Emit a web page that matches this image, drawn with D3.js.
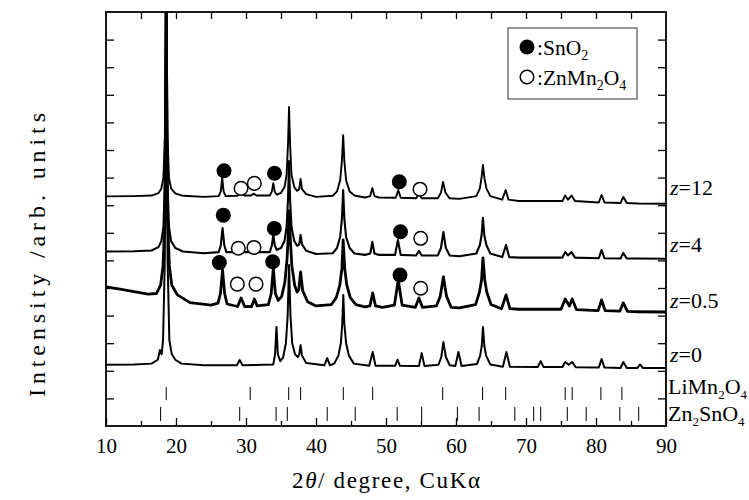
<!DOCTYPE html>
<html><head><meta charset="utf-8">
<script src="https://cdn.jsdelivr.net/npm/d3@7"></script>
<style>
body{margin:0;background:#fff}
text{font-family:"Liberation Serif","Times New Roman",Times,"DejaVu Serif",serif;fill:#000}
</style>
</head><body><svg id="c" width="749" height="500"></svg>
<script>
// ---------- data ----------
const xTicks = [10,20,30,40,50,60,70,80,90];
const seriesLabels = ["12","4","0.5","0"];
const labelValues = [83.7, 63.2, 42.8, 23.3];

const z12 = [[10,83.2],[14,83.3],[16.5,83.5],[17.5,84.4],[17.9,86],[18.2,90],[18.42,105],[18.6,175],[18.78,105],[19.0,90],[19.3,86],[19.9,84.3],[21,83.4],[24,83],[26.1,83.3],[26.4,85],[26.6,89.9],[26.8,85],[27.1,83.3],[28.8,83.4],[29.3,84.4],[29.8,83.5],[30.7,83.5],[31.1,84.2],[31.5,83.5],[33.4,83.5],[33.7,85],[33.9,88],[34.1,85],[34.4,83.8],[35.0,84.5],[35.5,86.5],[35.8,91],[36.0,102],[36.15,115.6],[36.3,102],[36.5,91],[36.9,86.5],[37.3,85.2],[37.6,85.8],[37.8,89.5],[38,85.8],[38.6,84],[40,83],[42.4,83.4],[43.0,85],[43.45,89],[43.7,96],[43.88,105.4],[44.05,96],[44.3,89],[44.8,85],[45.5,83.5],[47,82.8],[47.75,83.3],[48.05,86.2],[48.35,83.3],[49,82.8],[51.4,82.7],[51.75,85.5],[52.1,82.7],[54.3,82.5],[54.7,84],[55.1,82.5],[57.4,82.5],[57.85,84.5],[58.15,88.4],[58.5,84.5],[59.1,82.5],[60.5,82.3],[62.9,83.3],[63.4,86],[63.65,90],[63.85,94.6],[64.05,90],[64.35,86],[64.9,83.3],[66.6,82],[67.1,85.5],[67.5,82],[69,81.5],[75.2,81.5],[75.6,83.5],[76,82],[76.5,83.5],[77,81.5],[80.4,81],[80.8,83.7],[81.2,81],[83.5,80.8],[83.9,83],[84.4,80.8],[86,80.6],[90,80.5]];

const z4 = [[10,63.2],[14,63.3],[16.5,63.6],[17.5,64.8],[17.9,67],[18.2,72],[18.42,88],[18.6,140],[18.78,88],[19.0,72],[19.3,67],[19.9,64.5],[21,63.2],[24,62.6],[26.1,63],[26.4,65.5],[26.65,71.7],[26.9,65.5],[27.2,63],[28.8,63],[29.3,64.5],[29.8,63],[30.7,63],[31.1,64.3],[31.5,63],[33.4,63],[33.7,65.5],[33.9,69.2],[34.1,65.5],[34.4,63.8],[35.0,64.5],[35.5,67],[35.8,72],[36.0,82],[36.15,96],[36.3,82],[36.5,72],[36.9,67],[37.3,65.3],[37.6,65.8],[37.8,69.2],[38,65.8],[38.6,63.5],[40,62.3],[42.4,62.6],[43.0,64.5],[43.45,68.5],[43.7,75],[43.88,85.5],[44.05,75],[44.3,68.5],[44.8,64.5],[45.5,62.5],[47,62],[47.75,62.5],[48.05,66.7],[48.35,62.5],[49,62],[51.3,62],[51.7,67.4],[52.1,62],[54.3,61.8],[54.7,63.5],[55.1,61.8],[57.4,61.8],[57.85,64.5],[58.2,70.3],[58.55,64.5],[59.1,61.8],[60.5,61.5],[62.9,62.5],[63.4,65.5],[63.65,69],[63.85,75.4],[64.05,69],[64.35,65.5],[64.9,62.5],[66.6,61.2],[67.15,65.6],[67.6,61.2],[69,61],[75.2,61],[75.6,63],[76,61.8],[76.5,63],[77,61],[80.4,60.8],[80.8,63.8],[81.2,60.8],[83.5,60.7],[83.9,62.7],[84.4,60.7],[86,60.7],[90,60.6]];

const z05 = [[10,50.4],[12,49.6],[14,48.7],[16,47.8],[17.2,48],[17.8,51],[18.15,58],[18.4,75],[18.6,150],[18.8,75],[19.05,58],[19.4,51],[20.2,47.5],[22,44.7],[25,43.8],[26.0,44.5],[26.35,48],[26.65,56.5],[26.95,48],[27.3,44.2],[28.8,43.3],[29.3,46.4],[29.8,43.3],[30.8,43.3],[31.2,46],[31.6,43.5],[33.2,44],[33.6,48],[33.9,57.2],[34.2,48],[34.6,45.5],[35.1,47],[35.55,52],[35.85,60],[36.0,67],[36.15,78],[36.35,67],[36.55,58],[36.95,51],[37.3,48.5],[37.55,49.5],[37.8,55.8],[38.1,49],[38.8,45],[40,43.5],[42.2,44],[42.9,46.5],[43.4,51],[43.7,57],[43.88,67.4],[44.1,57],[44.4,51],[44.9,46.5],[45.7,44],[47,43.2],[47.7,43.5],[48.1,48.2],[48.5,43.5],[49.5,43],[51.2,43.8],[51.75,52.9],[52.3,43.8],[54.2,43],[54.7,46.4],[55.2,43],[57.2,43.5],[57.75,47],[58.2,54],[58.65,47],[59.3,43],[60.5,42.8],[62.8,44],[63.35,48.5],[63.65,53],[63.85,60.9],[64.1,53],[64.4,48.5],[65.0,44],[66.5,42.5],[67.15,47.5],[67.7,42.5],[69,42.3],[75,42.3],[75.6,46],[76.2,43.5],[76.6,46],[77.2,42.2],[80.3,41.8],[80.8,45.7],[81.3,41.8],[83.4,41.6],[83.9,44.6],[84.5,41.5],[86,41.4],[90,41.3]];

const z0 = [[10,22.2],[14,22.3],[16.5,22.6],[17.4,24],[17.7,27.5],[17.95,26],[18.15,31],[18.4,60],[18.6,200],[18.8,60],[19.05,31],[19.4,26],[19.9,24],[20.8,22.6],[24,22],[28.7,22],[29.1,23.9],[29.5,22],[33.9,22.3],[34.15,26],[34.35,35.9],[34.55,26],[34.9,23.5],[35.3,24.8],[35.7,30],[35.95,40],[36.15,58.3],[36.35,40],[36.6,30],[37.0,26],[37.4,25],[37.6,25.8],[37.8,29.3],[38,25.5],[38.6,22.8],[41.2,22],[41.6,24.6],[42,22],[42.6,22.6],[43.2,25.5],[43.55,30],[43.75,37],[43.9,47.5],[44.05,37],[44.3,30],[44.7,25.5],[45.4,22.6],[47.6,21.8],[48.1,26.8],[48.5,21.8],[51.3,21.8],[51.65,24],[52,21.8],[54.7,21.7],[55.1,26.4],[55.5,21.7],[57.5,22.2],[57.9,25],[58.2,30.4],[58.55,25],[59.1,22],[59.9,21.7],[60.35,26.8],[60.8,21.7],[63.0,22.5],[63.45,25.5],[63.68,29],[63.85,35.9],[64.05,29],[64.3,25.5],[64.9,22.3],[66.7,21.5],[67.2,26.8],[67.7,21.5],[71.7,21.4],[72.1,23.5],[72.5,21.4],[75.2,21.4],[75.6,23.2],[76.1,22.2],[76.6,23.2],[77.1,21.3],[80.4,21.2],[80.8,24.3],[81.2,21.2],[83.5,21],[83.9,23.2],[84.4,21],[85.9,21],[86.3,22.3],[86.7,21],[90,21]];

const liMn2O4Ref = [18.6,30.6,36.1,37.8,43.9,48.1,58.1,63.8,67.1,75.6,76.6,80.7,83.7];
const zn2SnO4Ref = [17.8,29.1,34.3,35.9,41.6,45.6,51.6,55.1,60.2,63.3,68.4,71.1,72.1,75.9,78.6,83.4,86.1];

const sno2Marks = [[26.86,92.5],[34.07,91.6],[51.9,88.5],[26.76,76.4],[34.04,71.6],[52.07,70.4],[26.19,59.2],[33.81,59.5],[52,54.7]];
const znMn2O4Marks = [[29.29,86.1],[31.19,87.9],[54.86,85.8],[28.9,64.4],[31.14,64.7],[54.96,68.0],[28.76,51.4],[31.43,51.4],[54.96,49.9]];

// ---------- drawing ----------
const L = 106, R = 666, T = 12, B = 426;
const svg = d3.select("#c");
const x = d3.scaleLinear().domain([10, 90]).range([L, R]);
const y = d3.scaleLinear().domain([0, 150]).range([B, T]);

svg.append("defs").append("clipPath").attr("id","clip")
  .append("rect").attr("x", L).attr("y", T).attr("width", R-L).attr("height", B-T);

const line = d3.line().x(d => x(d[0])).y(d => y(d[1]));
const traces = [z12, z4, z05, z0];
const widths = [1.9, 2.1, 2.8, 2.0];
const gT = svg.append("g").attr("clip-path","url(#clip)");
traces.forEach((t, i) => {
  gT.append("path").attr("d", line(t)).attr("fill","none")
    .attr("stroke","#000").attr("stroke-width", widths[i]).attr("stroke-linejoin","round");
});

// reference stick patterns
const refRows = [{data: liMn2O4Ref, v0: 9.4, v1: 14.1}, {data: zn2SnO4Ref, v0: 1.8, v1: 6.9}];
refRows.forEach(r => {
  svg.append("g").selectAll("line").data(r.data).join("line")
    .attr("x1", d => x(d)).attr("x2", d => x(d))
    .attr("y1", y(r.v0)).attr("y2", y(r.v1))
    .attr("stroke","#000").attr("stroke-width",1);
});

// phase markers
svg.append("g").selectAll("circle").data(sno2Marks).join("circle")
  .attr("cx", d => x(d[0])).attr("cy", d => y(d[1])).attr("r", 7.5).attr("fill","#000");
svg.append("g").selectAll("circle").data(znMn2O4Marks).join("circle")
  .attr("cx", d => x(d[0])).attr("cy", d => y(d[1])).attr("r", 6.8)
  .attr("fill","#fff").attr("stroke","#000").attr("stroke-width",1.5);

// axes
const fs = 21;
const axB = d3.axisBottom(x).tickValues(xTicks).tickSizeInner(-8).tickSizeOuter(0).tickPadding(12).tickFormat(d3.format("d"));
const gB = svg.append("g").attr("transform", `translate(0,${B})`).call(axB);
const axBm = d3.axisBottom(x).tickValues(d3.range(15, 90, 10)).tickSizeInner(-5).tickSizeOuter(0).tickFormat("");
svg.append("g").attr("transform", `translate(0,${B})`).call(axBm);
const axT = d3.axisTop(x).tickValues(d3.range(15, 90, 5)).tickSizeInner(-7).tickSizeOuter(0).tickFormat("");
svg.append("g").attr("transform", `translate(0,${T})`).call(axT);
const yTickVals = d3.range(10, 150, 10);
const axL = d3.axisLeft(y).tickValues(yTickVals).tickSizeInner(-8).tickSizeOuter(0).tickFormat("");
svg.append("g").attr("transform", `translate(${L},0)`).call(axL);
const axR = d3.axisRight(y).tickValues(yTickVals).tickSizeInner(-8).tickSizeOuter(0).tickFormat("");
svg.append("g").attr("transform", `translate(${R},0)`).call(axR);
svg.selectAll(".domain").remove();
svg.selectAll("g[font-family]").attr("font-family", null);
svg.selectAll(".tick line").attr("stroke","#000").attr("stroke-width",1.3);
gB.selectAll(".tick text").attr("font-size", fs).attr("fill","#000");

// frame
svg.append("rect").attr("x", L).attr("y", T).attr("width", R-L).attr("height", B-T)
  .attr("fill","none").attr("stroke","#000").attr("stroke-width",1.8);

// axis titles
const xt = svg.append("text").attr("x", (L+R)/2).attr("y", 488).attr("text-anchor","middle")
  .attr("font-size", 23).attr("textLength", 188).attr("lengthAdjust","spacing");
xt.append("tspan").text("2");
xt.append("tspan").attr("font-style","italic").text("θ");
xt.append("tspan").text("/ degree, CuKα");

svg.append("text").attr("transform", "translate(45,255) rotate(-90)")
  .attr("text-anchor","middle").attr("font-size", 24)
  .attr("textLength", 284).attr("lengthAdjust","spacing").text("Intensity /arb. units");

// series labels
seriesLabels.forEach((s, i) => {
  const t = svg.append("text").attr("x", R + 4).attr("y", y(labelValues[i])).attr("font-size", 22);
  t.append("tspan").attr("font-style","italic").text("z");
  t.append("tspan").text("=" + s);
});

// chemical formula text with subscripts
function chem(xp, yp, parts, size, sub) {
  const t = svg.append("text").attr("x", xp).attr("y", yp).attr("font-size", size);
  let shift = 0;
  parts.forEach(p => {
    const s = t.append("tspan");
    if (typeof p === "string") {
      s.text(p);
      if (shift) { s.attr("dy", -shift); shift = 0; }
    } else {
      s.attr("font-size", sub).attr("dy", 5).text(p[0]);
      shift = 5;
    }
  });
  return t;
}
chem(R + 2, 394, ["LiMn", ["2"], "O", ["4"]], 22, 13);
chem(R + 2, 421, ["Zn", ["2"], "SnO", ["4"]], 22, 13);

// legend
const lg = svg.append("g");
lg.append("rect").attr("x", 508).attr("y", 28).attr("width", 129).attr("height", 71)
  .attr("fill","#fff").attr("stroke","#333").attr("stroke-width",1);
lg.append("circle").attr("cx", 527).attr("cy", 47).attr("r", 7.5).attr("fill","#000");
lg.append("circle").attr("cx", 527).attr("cy", 77).attr("r", 6.8).attr("fill","#fff").attr("stroke","#000").attr("stroke-width",1.5);
chem(537, 55, [":SnO", ["2"]], 21.5, 14);
chem(537, 85, [":ZnMn", ["2"], "O", ["4"]], 21.5, 14);
</script>
</body></html>
